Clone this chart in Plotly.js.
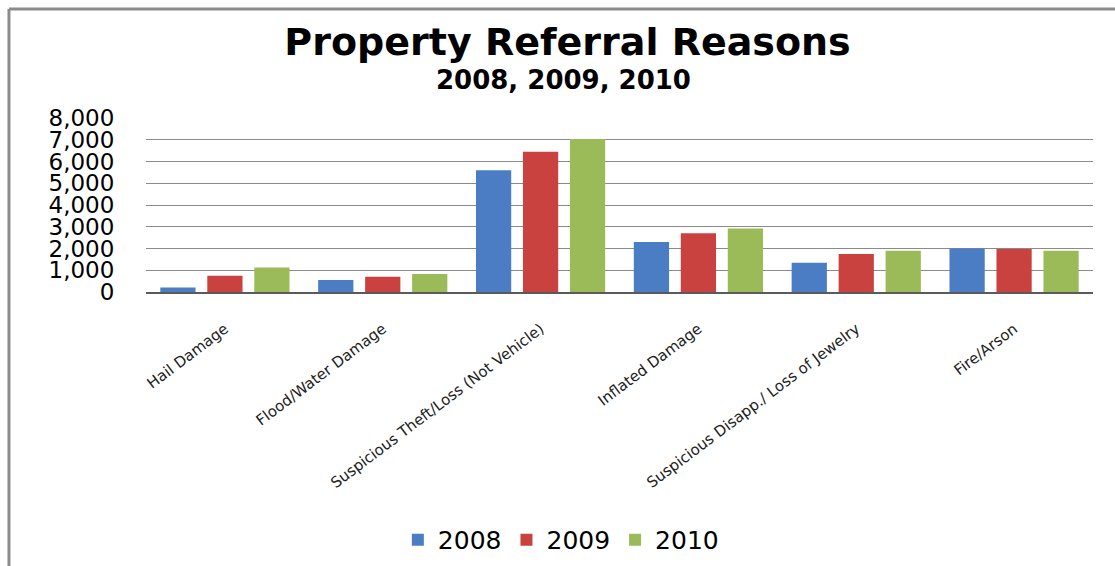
<!DOCTYPE html>
<html>
<head>
<meta charset="utf-8">
<script src="https://cdn.plot.ly/plotly-3.0.1.min.js"></script>
<style>
html,body{margin:0;padding:0;background:#fff;}
#chart{width:1115px;height:566px;}
</style>
</head>
<body>
<div id="chart"></div>
<script>
var categories = ["Hail Damage", "Flood/Water Damage", "Suspicious Theft/Loss (Not Vehicle)", "Inflated Damage", "Suspicious Disapp./ Loss of Jewelry", "Fire/Arson"];
var seriesNames = ["2008", "2009", "2010"];
var values2008 = [210, 550, 5600, 2300, 1350, 2000];
var values2009 = [750, 700, 6450, 2700, 1750, 1980];
var values2010 = [1130, 830, 7030, 2920, 1900, 1900];
var yTickVals = [0, 1000, 2000, 3000, 4000, 5000, 6000, 7000, 8000];
var yTickText = ["0", "1,000", "2,000", "3,000", "4,000", "5,000", "6,000", "7,000", "8,000"];
var chartTitle = "Property Referral Reasons";
var chartSubtitle = "2008, 2009, 2010";
var colors = ["#4A7DC4", "#C9423F", "#9BBB59"];

var allValues = [values2008, values2009, values2010];
var traces = seriesNames.map(function (name, i) {
  return {
    type: "bar",
    name: name,
    x: categories,
    y: allValues[i],
    marker: {color: colors[i], line: {width: 0}},
    hoverinfo: "x+y+name"
  };
});

var FONT = "DejaVu Sans, Verdana, sans-serif";

var layout = {
  width: 1115,
  height: 566,
  paper_bgcolor: "#ffffff",
  plot_bgcolor: "#ffffff",
  margin: {l: 146, r: 22, t: 118, b: 274, pad: 0},
  barmode: "group",
  bargap: 0.107,
  bargroupgap: 0.25,
  font: {family: FONT, color: "#000"},
  title: {
    text: "<b>" + chartTitle + "</b>",
    x: 0.509,
    xanchor: "center",
    xref: "container",
    y: 0.927,
    yanchor: "middle",
    yref: "container",
    font: {family: FONT, size: 38, color: "#000"}
  },
  annotations: [
    {
      text: "<b>" + chartSubtitle + "</b>",
      xref: "paper", yref: "paper",
      x: (563 - 146) / 947, y: 1 + (118 - 80) / 174,
      xanchor: "center", yanchor: "middle",
      showarrow: false,
      font: {family: FONT, size: 26, color: "#000"}
    }
  ],
  xaxis: {
    type: "category",
    tickangle: -37,
    tickfont: {family: FONT, size: 15, color: "#222"},
    showline: true,
    linecolor: "#5a5a5a",
    linewidth: 1.5,
    showgrid: false,
    ticks: "outside",
    ticklen: 21,
    tickcolor: "rgba(0,0,0,0)",
    fixedrange: true
  },
  yaxis: {
    range: [0, 8000],
    tickvals: yTickVals,
    ticktext: yTickText,
    tickfont: {family: FONT, size: 23, color: "#000"},
    showgrid: true,
    gridcolor: "#8a8a8a",
    gridwidth: 1,
    zeroline: false,
    showline: false,
    ticks: "outside",
    ticklen: 26,
    tickcolor: "rgba(0,0,0,0)",
    fixedrange: true
  },
  showlegend: true,
  legend: {
    orientation: "h",
    x: 0.503,
    xref: "container",
    xanchor: "center",
    y: 0.046,
    yref: "container",
    yanchor: "middle",
    font: {family: FONT, size: 25, color: "#000"},
    itemwidth: 30,
    traceorder: "normal"
  },
  shapes: [
    {type: "line", xref: "paper", yref: "paper", x0: -0.1447, x1: 1.05, y0: 1.626, y1: 1.626, line: {color: "#8c8c8c", width: 3}},
    {type: "line", xref: "paper", yref: "paper", x0: -0.1447, x1: -0.1447, y0: 1.626, y1: -1.65, line: {color: "#8c8c8c", width: 3}}
  ]
};

Plotly.newPlot("chart", traces, layout, {displayModeBar: false, staticPlot: true});
</script>
</body>
</html>
